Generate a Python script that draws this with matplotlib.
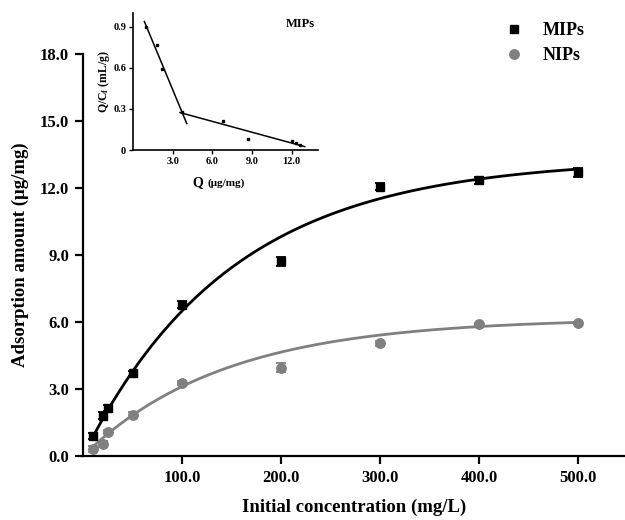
import numpy as np
import matplotlib
matplotlib.use("Agg")
import matplotlib.pyplot as plt

plt.rcParams['font.family'] = ['Liberation Serif', 'DejaVu Serif']
plt.rcParams['font.weight'] = 'bold'
plt.rcParams['mathtext.fontset'] = 'custom'
plt.rcParams['mathtext.rm'] = 'Liberation Serif:bold'
plt.rcParams['mathtext.it'] = 'Liberation Serif:bold'
plt.rcParams['mathtext.bf'] = 'Liberation Serif:bold'

# ---- data ----
conc = [10, 20, 25, 50, 100, 200, 300, 400, 500]
mips = [0.90, 1.80, 2.15, 3.70, 6.78, 8.73, 12.06, 12.35, 12.70]
mips_err = [0.12, 0.15, 0.15, 0.12, 0.15, 0.20, 0.15, 0.15, 0.20]
nips = [0.31, 0.54, 1.07, 1.84, 3.27, 3.95, 5.05, 5.90, 5.95]
nips_err = [0.15, 0.12, 0.10, 0.15, 0.08, 0.20, 0.12, 0.05, 0.05]

scat_q = [0.96, 1.80, 2.20, 3.70, 6.80, 8.70, 12.00, 12.35, 12.65]
scat_qc = [0.90, 0.77, 0.59, 0.28, 0.21, 0.078, 0.068, 0.049, 0.037]

main_xticks = [100, 200, 300, 400, 500]
main_yticks = [0, 3, 6, 9, 12, 15, 18]
inset_xticks = [3, 6, 9, 12]
inset_yticks = [0, 0.3, 0.6, 0.9]
inset_ylabels = ['0', '0.3', '0.6', '0.9']


def fit_exp(x, y, s):
    x = np.asarray(x, float); y = np.asarray(y, float)
    w = 1.0 / np.asarray(s, float) ** 2
    best = None
    for b in np.linspace(0.001, 0.05, 5000):
        f = 1 - np.exp(-b * x)
        a = np.sum(w * y * f) / np.sum(w * f * f)
        err = np.sum(w * (y - a * f) ** 2)
        if best is None or err < best[0]:
            best = (err, a, b)
    return best[1], best[2]


fig = plt.figure(figsize=(6.25, 5.2), dpi=100)
ax = fig.add_axes([0.1328, 0.123, 0.8672, 0.773])

xs = np.linspace(conc[0], conc[-1], 300)
a1, b1 = fit_exp(conc, mips, mips_err)
a2, b2 = fit_exp(conc, nips, nips_err)
ax.plot(xs, a1 * (1 - np.exp(-b1 * xs)), color='black', lw=2, zorder=2)
ax.plot(xs, a2 * (1 - np.exp(-b2 * xs)), color='#808080', lw=2, zorder=2)

ax.errorbar(conc, mips, yerr=mips_err, fmt='s', color='black', ms=5.5,
            capsize=3.6, elinewidth=1.3, capthick=1.3, label='MIPs', zorder=3)
ax.errorbar(conc, nips, yerr=nips_err, fmt='o', color='#808080', ms=6.8,
            capsize=3.6, elinewidth=1.3, capthick=1.3, label='NIPs', zorder=3)

ax.set_xlim(0, 547)
ax.set_ylim(0, 18)
ax.set_xticks(main_xticks)
ax.set_xticklabels([f'{v:.1f}' for v in main_xticks])
ax.set_yticks(main_yticks)
ax.set_yticklabels([f'{v:.1f}' for v in main_yticks])
for s in ['top', 'right']:
    ax.spines[s].set_visible(False)
for s in ['left', 'bottom']:
    ax.spines[s].set_linewidth(1.6)
ax.tick_params(direction='out', length=6, width=1.6, labelsize=12, pad=4)
for lab in ax.get_xticklabels() + ax.get_yticklabels():
    lab.set_fontweight('bold')
ax.set_xlabel('Initial concentration (mg/L)', fontsize=13.5, fontweight='bold', labelpad=9)
ax.set_ylabel('Adsorption amount (μg/mg)', fontsize=13.5, fontweight='bold', labelpad=8)

handles, labels = ax.get_legend_handles_labels()
h2 = [h[0] for h in handles]
leg = ax.legend(h2, labels, loc='upper left', bbox_to_anchor=(0.745, 1.12),
                frameon=False, fontsize=13, handletextpad=1.0, labelspacing=0.45,
                handlelength=1.2)
for t in leg.get_texts():
    t.set_fontweight('bold')

# ---- inset ----
ins = fig.add_axes([0.2128, 0.7115, 0.296, 0.2635])
ins.plot(scat_q, scat_qc, 's', color='black', ms=2)
q = np.asarray(scat_q); qc = np.asarray(scat_qc)
p1 = np.polyfit(q[:4], qc[:4], 1)
p2 = np.polyfit(q[3:], qc[3:], 1)
x1 = np.array([0.86, 4.07]); x2 = np.array([3.56, 13.0])
ins.plot(x1, np.polyval(p1, x1), color='black', lw=1.1)
ins.plot(x2, np.polyval(p2, x2), color='black', lw=1.1)
ins.set_xlim(0, 14)
ins.set_ylim(0, 1.0)
ins.set_xticks(inset_xticks)
ins.set_xticklabels([f'{v:.1f}' for v in inset_xticks])
ins.set_yticks(inset_yticks)
ins.set_yticklabels(inset_ylabels)
for s in ['top', 'right']:
    ins.spines[s].set_visible(False)
for s in ['left', 'bottom']:
    ins.spines[s].set_linewidth(1.2)
ins.tick_params(direction='out', length=3, width=1.0, labelsize=7.5, pad=2)
for lab in ins.get_xticklabels() + ins.get_yticklabels():
    lab.set_fontweight('bold')
ins.text(0.38, -0.19, 'Q', transform=ins.transAxes, ha='right', va='top',
         fontsize=10, fontweight='bold')
ins.text(0.40, -0.205, '(μg/mg)', transform=ins.transAxes, ha='left', va='top',
         fontsize=8, fontweight='bold')
ins.set_ylabel('Q/C$_f$ (mL/g)', fontsize=8.5, fontweight='bold', labelpad=1)
ins.text(0.98, 0.92, 'MIPs', transform=ins.transAxes, ha='right', va='center',
         fontsize=9, fontweight='bold')

fig.savefig('out.png', dpi=100)
